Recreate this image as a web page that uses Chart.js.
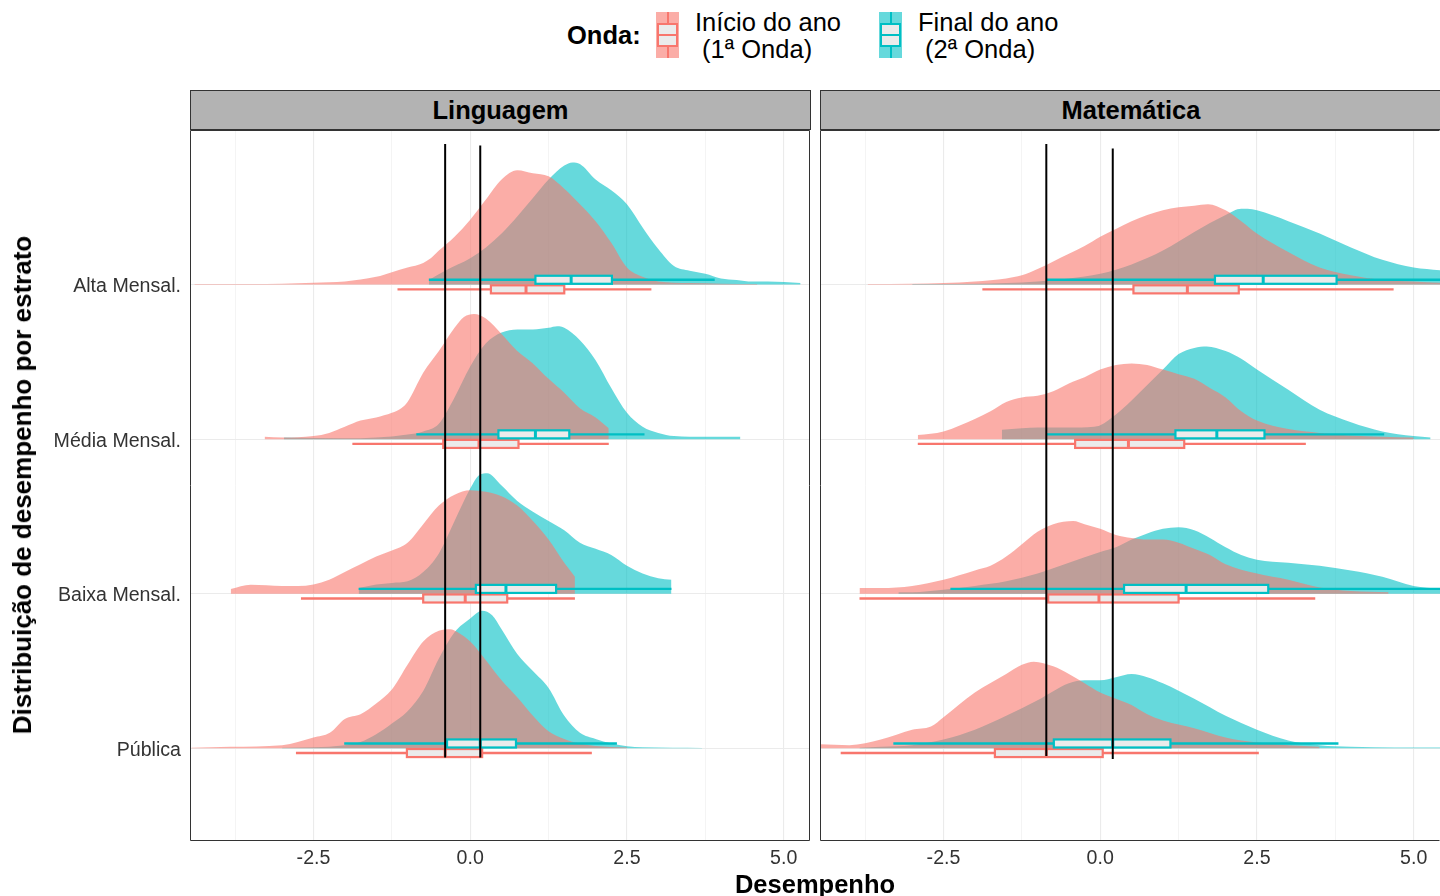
<!DOCTYPE html>
<html lang="pt">
<head>
<meta charset="utf-8">
<title>Distribuição de desempenho por estrato</title>
<script src="https://cdn.jsdelivr.net/npm/chart.js@4.4.1/dist/chart.umd.min.js"></script>
<style>
  body { margin: 0; width: 1440px; height: 896px; overflow: hidden; background: #fff;
         font-family: "Liberation Sans", Arial, sans-serif; color: #000; position: relative; }
  .abs { position: absolute; white-space: pre; line-height: 1; }
  .strip { position: absolute; top: 90px; height: 40px; box-sizing: border-box; background: #b3b3b3;
           border: 1px solid #333; display: flex; align-items: center; justify-content: center;
           font-weight: bold; font-size: 25.5px; }
  .key { position: absolute; top: 12px; width: 23px; height: 46px; }
  .key .wh { position: absolute; left: 10.5px; top: 0; width: 2px; height: 46px; }
  .key .bx { position: absolute; left: 1px; top: 11px; width: 21px; height: 24px; box-sizing: border-box;
             border: 2px solid; background: #ebebeb; }
  .key .md { position: absolute; left: 0; right: 0; top: 9px; height: 2px; }
  .lab { position: absolute; top: 9px; font-size: 25.5px; line-height: 27px; white-space: pre; }
  canvas { position: absolute; }
</style>
</head>
<body>

<div class="abs" style="left:567px; top:23px; font-size:25.5px; font-weight:bold;">Onda:</div>
<div class="key" style="left:656px; background:rgba(248,118,109,0.6);">
  <div class="wh" style="background:#F8766D;"></div>
  <div class="bx" style="border-color:#F8766D;"><div class="md" style="background:#F8766D;"></div></div>
</div>
<div class="lab" id="lab-ini" style="left:695px;"></div>
<div class="key" style="left:879px; background:rgba(0,191,196,0.6);">
  <div class="wh" style="background:#00BFC4;"></div>
  <div class="bx" style="border-color:#00BFC4;"><div class="md" style="background:#00BFC4;"></div></div>
</div>
<div class="lab" id="lab-fim" style="left:918px;"></div>

<div class="strip" id="strip-0" style="left:190px; width:621px;"></div>
<div class="strip" id="strip-1" style="left:820px; width:622px;"></div>

<canvas id="chart-ling" width="812" height="750" style="left:0; top:126px; width:812px; height:750px;"></canvas>
<canvas id="chart-mat" width="622" height="750" style="left:818px; top:126px; width:622px; height:750px;"></canvas>

<div class="abs" style="left:22px; top:485px; font-size:26px; font-weight:bold; transform:translate(-50%,-50%) rotate(-90deg);">Distribuição de desempenho por estrato</div>
<div class="abs" style="left:815px; top:872px; font-size:25.5px; font-weight:bold; transform:translateX(-50%);">Desempenho</div>

<script>
// categorias e rótulos
const strata = ['Pública', 'Baixa Mensal.', 'Média Mensal.', 'Alta Mensal.'];
const panels = ['Linguagem', 'Matemática'];
const waves = ['Início do ano\n (1ª Onda)', 'Final do ano\n (2ª Onda)'];
const xMajor = [-2.5, 0, 2.5, 5];
const xMinor = [-3.75, -1.25, 1.25, 3.75];
const xRange = [-4.47, 5.42];
const yRange = [0.4, 5.0];

// densidades [x, altura] — Linguagem, 1ª onda (Início)
const lingPubIni = [[-4.45,0.003],[-3.82,0.01],[-3,0.02],[-2.5,0.07],[-2.24,0.1],[-2,0.19],[-1.75,0.22],[-1.5,0.29],[-1.25,0.38],[-1,0.54],[-0.75,0.69],[-0.5,0.76],[-0.32,0.77],[-0.2,0.75],[0,0.69],[0.25,0.57],[0.5,0.44],[0.75,0.33],[1,0.21],[1.25,0.11],[1.5,0.06],[1.75,0.03],[2,0.015],[2.5,0.005]];
const lingBaiIni = [[-3.82,0.03],[-3.5,0.058],[-3,0.05],[-2.75,0.05],[-2.5,0.06],[-2.25,0.09],[-2,0.14],[-1.75,0.19],[-1.5,0.24],[-1.25,0.28],[-1,0.33],[-0.75,0.45],[-0.5,0.57],[-0.25,0.64],[0,0.67],[0.25,0.66],[0.5,0.63],[0.75,0.57],[1,0.47],[1.25,0.35],[1.5,0.2],[1.67,0.11]];
const lingMedIni = [[-3.28,0.015],[-3,0.01],[-2.5,0.02],[-2.25,0.04],[-2,0.08],[-1.75,0.12],[-1.5,0.14],[-1.25,0.17],[-1.1,0.2],[-1,0.24],[-0.75,0.43],[-0.5,0.57],[-0.25,0.72],[-0.1,0.79],[0.06,0.81],[0.25,0.78],[0.5,0.68],[0.75,0.57],[1,0.49],[1.25,0.39],[1.5,0.3],[1.75,0.2],[2,0.14],[2.21,0.07]];
const lingAltIni = [[-4.4,0.003],[-3.5,0.004],[-3,0.006],[-2.5,0.012],[-2,0.02],[-1.5,0.05],[-1.25,0.08],[-1,0.11],[-0.75,0.14],[-0.63,0.17],[-0.5,0.22],[-0.25,0.31],[0,0.42],[0.25,0.55],[0.5,0.68],[0.75,0.74],[1,0.72],[1.25,0.7],[1.5,0.62],[1.75,0.52],[2,0.41],[2.25,0.27],[2.5,0.11],[2.75,0.05],[3,0.02],[3.5,0.01],[4,0.006],[4.58,0.004]];

// Linguagem, 2ª onda (Final)
const lingPubFim = [[-3,0.003],[-2.5,0.006],[-2,0.02],[-1.75,0.04],[-1.5,0.09],[-1.25,0.16],[-1,0.24],[-0.75,0.37],[-0.5,0.58],[-0.25,0.75],[0,0.84],[0.19,0.89],[0.35,0.86],[0.5,0.77],[0.75,0.61],[1,0.5],[1.25,0.39],[1.5,0.21],[1.75,0.1],[2,0.06],[2.25,0.03],[2.5,0.013],[2.75,0.006],[3.7,0.002]];
const lingBaiFim = [[-1.78,0.037],[-1.5,0.06],[-1.25,0.07],[-1,0.08],[-0.75,0.14],[-0.5,0.26],[-0.25,0.47],[0,0.68],[0.15,0.77],[0.27,0.78],[0.5,0.7],[0.75,0.6],[1,0.53],[1.25,0.47],[1.5,0.41],[1.75,0.33],[2,0.29],[2.25,0.25],[2.5,0.18],[2.75,0.13],[3,0.1],[3.21,0.09]];
const lingMedFim = [[-2.97,0.01],[-2,0.005],[-1.5,0.01],[-1,0.03],[-0.75,0.05],[-0.5,0.1],[-0.25,0.27],[0,0.47],[0.25,0.62],[0.5,0.69],[0.75,0.71],[1,0.71],[1.25,0.72],[1.39,0.73],[1.5,0.72],[1.75,0.64],[2,0.51],[2.25,0.33],[2.5,0.17],[2.75,0.08],[3,0.04],[3.25,0.02],[3.75,0.015],[4.31,0.015]];
const lingAltFim = [[-0.66,0.03],[-0.4,0.09],[0,0.17],[0.25,0.24],[0.5,0.33],[0.75,0.44],[1,0.56],[1.25,0.68],[1.5,0.77],[1.63,0.79],[1.75,0.78],[2,0.68],[2.25,0.61],[2.5,0.52],[2.75,0.37],[3,0.23],[3.25,0.12],[3.5,0.09],[3.75,0.07],[4,0.04],[4.25,0.03],[4.5,0.02],[4.75,0.02],[5.27,0.01]];

// Matemática, 1ª onda (Início)
const matPubIni = [[-4.47,0.026],[-4,0.02],[-3.5,0.056],[-3,0.12],[-2.7,0.14],[-2.5,0.2],[-2,0.36],[-1.5,0.48],[-1.25,0.54],[-1.06,0.56],[-0.75,0.53],[-0.5,0.48],[-0.25,0.42],[0,0.36],[0.25,0.32],[0.5,0.28],[0.75,0.22],[1,0.18],[1.5,0.13],[2,0.07],[2.5,0.037],[3,0.02],[3.5,0.01]];
const matBaiIni = [[-3.84,0.037],[-3.5,0.037],[-3,0.05],[-2.5,0.09],[-2,0.15],[-1.75,0.18],[-1.5,0.24],[-1.25,0.32],[-1,0.4],[-0.75,0.45],[-0.43,0.47],[-0.25,0.45],[0,0.42],[0.25,0.38],[0.5,0.36],[0.75,0.35],[1,0.35],[1.25,0.33],[1.5,0.29],[1.75,0.25],[2,0.19],[2.5,0.13],[3,0.09],[3.5,0.04],[4,0.017],[4.6,0.01]];
const matMedIni = [[-2.91,0.026],[-2.5,0.05],[-2,0.13],[-1.75,0.18],[-1.5,0.24],[-1.25,0.27],[-1,0.28],[-0.75,0.31],[-0.5,0.36],[-0.25,0.4],[0,0.45],[0.25,0.48],[0.5,0.49],[0.75,0.48],[1,0.45],[1.25,0.42],[1.5,0.39],[1.75,0.33],[2,0.27],[2.25,0.18],[2.5,0.12],[3,0.065],[3.5,0.04],[4,0.024],[4.5,0.015],[5,0.01]];
const matAltIni = [[-3.71,0.003],[-3,0.006],[-2.5,0.01],[-2,0.02],[-1.5,0.04],[-1.25,0.06],[-1,0.1],[-0.75,0.15],[-0.5,0.2],[-0.25,0.25],[0,0.31],[0.25,0.36],[0.5,0.41],[0.75,0.45],[1,0.48],[1.25,0.5],[1.5,0.51],[1.72,0.52],[2,0.48],[2.25,0.41],[2.5,0.33],[3,0.21],[3.5,0.11],[4,0.06],[4.5,0.03],[5,0.02],[5.5,0.01]];

// Matemática, 2ª onda (Final)
const matPubFim = [[-3.84,0.003],[-3.5,0.01],[-3,0.02],[-2.5,0.056],[-2,0.12],[-1.5,0.21],[-1,0.31],[-0.5,0.42],[-0.25,0.44],[0,0.44],[0.25,0.46],[0.5,0.48],[0.75,0.46],[1,0.42],[1.5,0.32],[2,0.21],[2.5,0.12],[3,0.05],[3.5,0.02],[4,0.01],[5.5,0.004]];
const matBaiFim = [[-3.22,0.01],[-3,0.01],[-2.5,0.026],[-2,0.05],[-1.5,0.08],[-1,0.13],[-0.5,0.2],[0,0.27],[0.25,0.3],[0.5,0.35],[0.75,0.39],[1,0.42],[1.25,0.43],[1.5,0.41],[1.75,0.36],[2,0.3],[2.25,0.25],[2.5,0.22],[3,0.2],[3.5,0.18],[4,0.15],[4.5,0.11],[5,0.05],[5.5,0.03]];
const matMedFim = [[-1.57,0.06],[-1.25,0.07],[-1,0.075],[-0.5,0.075],[-0.1,0.08],[0,0.09],[0.25,0.16],[0.5,0.25],[0.75,0.35],[1,0.45],[1.25,0.55],[1.5,0.59],[1.7,0.6],[2,0.57],[2.25,0.52],[2.5,0.45],[3,0.32],[3.5,0.19],[4,0.11],[4.5,0.05],[5,0.02],[5.27,0.01]];
const matAltFim = [[-3,0.003],[-2,0.005],[-1.5,0.01],[-1,0.02],[-0.5,0.04],[0,0.07],[0.5,0.13],[1,0.22],[1.5,0.34],[2,0.45],[2.25,0.49],[2.35,0.49],[2.5,0.48],[3,0.41],[3.5,0.33],[4,0.24],[4.5,0.16],[5,0.11],[5.5,0.09]];

// boxplots [mín, Q1, mediana, Q3, máx], na ordem de strata
const boxLingIni = [[-2.78,-1.01,-0.40,0.19,1.94],[-2.70,-0.75,-0.08,0.59,1.67],[-1.88,-0.43,0.14,0.77,2.21],[-1.16,0.33,0.89,1.50,2.89]];
const boxLingFim = [[-2.01,-0.37,0.16,0.73,2.34],[-1.78,0.09,0.57,1.37,3.21],[-0.86,0.45,1.04,1.58,2.78],[-0.66,1.04,1.61,2.26,3.90]];
const boxMatIni = [[-4.14,-1.68,-0.86,0.04,2.53],[-3.84,-0.83,-0.02,1.25,3.43],[-2.91,-0.40,0.45,1.34,3.28],[-1.88,0.53,1.39,2.21,4.68]];
const boxMatFim = [[-3.30,-0.74,0.20,1.12,3.80],[-2.39,0.38,1.37,2.68,5.60],[-0.86,1.20,1.86,2.62,4.53],[-0.86,1.83,2.60,3.77,5.60]];

// linhas de referência (medianas da rede pública)
const refLing = [-0.40, 0.16];
const refLingSpan = [[0.94, 4.91], [0.94, 4.90]];
const refMat = [-0.86, 0.20];
const refMatSpan = [[0.95, 4.91], [0.93, 4.88]];

const colIni = '#F8766D', colFim = '#00BFC4';
const fillIni = 'rgba(248,118,109,0.6)', fillFim = 'rgba(0,191,196,0.6)';
const boxOff = 0.031, boxHalf = 0.026;

document.getElementById('lab-ini').textContent = waves[0];
document.getElementById('lab-fim').textContent = waves[1];
panels.forEach((p, i) => document.getElementById('strip-' + i).textContent = p);

Chart.defaults.font.family = '"Liberation Sans", Arial, sans-serif';

function ridge(pts, base, color) {
    return {
        data: pts.map(([x, h]) => ({ x: x, y: base + h })),
        backgroundColor: color,
        borderColor: 'rgba(0,0,0,0)',
        borderWidth: 0,
        pointRadius: 0,
        fill: { value: base },
        cubicInterpolationMode: 'monotone',
        tension: 0.4
    };
}

// desenha boxplots antes das linhas de referência, e a moldura do painel no final
function boxLayer(sets, rightEdge) {
    return {
        id: 'boxLayer',
        beforeDatasetsDraw(chart) { chart.$boxDone = false; },
        beforeDatasetDraw(chart, args) {
            const ds = chart.data.datasets[args.index];
            if (!ds.refLine || chart.$boxDone) return;
            chart.$boxDone = true;
            const { ctx, chartArea: a } = chart;
            const xs = chart.scales.x, ys = chart.scales.y;
            ctx.save();
            ctx.beginPath();
            ctx.rect(a.left, a.top, a.width, a.height);
            ctx.clip();
            sets.forEach(set => {
                set.stats.forEach((s, i) => {
                    const [lo, q1, md, q3, hi] = s;
                    const yc = ys.getPixelForValue(i + 1 + set.off);
                    const hh = Math.abs(ys.getPixelForValue(i + 1 + set.off + boxHalf) - yc);
                    ctx.strokeStyle = set.color;
                    ctx.lineWidth = 2.4;
                    ctx.beginPath();
                    ctx.moveTo(xs.getPixelForValue(lo), yc);
                    ctx.lineTo(xs.getPixelForValue(hi), yc);
                    ctx.stroke();
                    const x1 = xs.getPixelForValue(q1), x3 = xs.getPixelForValue(q3);
                    ctx.fillStyle = '#ebebeb';
                    ctx.fillRect(x1, yc - hh, x3 - x1, 2 * hh);
                    ctx.lineWidth = 2.2;
                    ctx.strokeRect(x1, yc - hh, x3 - x1, 2 * hh);
                    const xm = xs.getPixelForValue(md);
                    ctx.lineWidth = 3;
                    ctx.beginPath();
                    ctx.moveTo(xm, yc - hh);
                    ctx.lineTo(xm, yc + hh);
                    ctx.stroke();
                });
            });
            ctx.restore();
        },
        afterDraw(chart) {
            const { ctx, chartArea: a } = chart;
            ctx.save();
            ctx.strokeStyle = '#333';
            ctx.lineWidth = 1;
            ctx.beginPath();
            ctx.moveTo(a.right - 0.5, a.top + 0.5);
            ctx.lineTo(a.left + 0.5, a.top + 0.5);
            ctx.lineTo(a.left + 0.5, a.bottom - 0.5);
            ctx.lineTo(a.right - 0.5, a.bottom - 0.5);
            if (rightEdge) ctx.lineTo(a.right - 0.5, a.top + 0.5);
            ctx.stroke();
            ctx.restore();
        }
    };
}

function buildPanel(id, densIni, densFim, boxIni, boxFim, ref, refSpan, showY) {
    const seq = [];
    for (let i = strata.length - 1; i >= 0; i--) {
        seq.push(ridge(densFim[i], i + 1, fillFim));
        seq.push(ridge(densIni[i], i + 1, fillIni));
    }
    ref.forEach((x, j) => {
        seq.push({
            data: [{ x: x, y: refSpan[j][0] }, { x: x, y: refSpan[j][1] }],
            borderColor: '#000', borderWidth: 2, pointRadius: 0, fill: false, tension: 0,
            refLine: true
        });
    });
    seq.forEach((d, i) => { d.order = seq.length - i; });

    const sets = [
        { stats: boxIni, color: colIni, off: -boxOff },
        { stats: boxFim, color: colFim, off: boxOff }
    ];

    new Chart(document.getElementById(id), {
        type: 'line',
        data: { datasets: seq },
        options: {
            responsive: false,
            animation: false,
            devicePixelRatio: 1,
            layout: { padding: { top: 4, right: showY ? 2 : 0, left: 0, bottom: 0 } },
            plugins: { legend: { display: false }, tooltip: { enabled: false } },
            scales: {
                x: {
                    type: 'linear', min: xRange[0], max: xRange[1],
                    afterBuildTicks: s => {
                        s.ticks = [...xMinor, ...xMajor].sort((a, b) => a - b).map(v => ({ value: v }));
                    },
                    afterFit: s => { s.height = 35; s.paddingLeft = 0; s.paddingRight = 0; },
                    ticks: {
                        autoSkip: false, maxRotation: 0, padding: 6, color: '#333', font: { size: 19.6 },
                        callback: v => xMajor.includes(v) ? v.toFixed(1) : ''
                    },
                    grid: {
                        color: '#ebebeb', drawTicks: false,
                        lineWidth: c => (c.tick && xMajor.includes(c.tick.value)) ? 1.1 : 0.55
                    },
                    border: { display: false }
                },
                y: {
                    type: 'linear', min: yRange[0], max: yRange[1],
                    afterBuildTicks: s => { s.ticks = strata.map((_, i) => ({ value: i + 1 })); },
                    afterFit: s => { s.width = showY ? 190 : 2; s.paddingTop = 0; s.paddingBottom = 0; },
                    ticks: {
                        display: showY, padding: 9, labelOffset: 2, color: '#333', font: { size: 19.6 },
                        callback: v => strata[v - 1]
                    },
                    grid: { color: '#ebebeb', lineWidth: 1.1, drawTicks: false },
                    border: { display: false }
                }
            }
        },
        plugins: [boxLayer(sets, showY)]
    });
}

buildPanel('chart-ling',
    [lingPubIni, lingBaiIni, lingMedIni, lingAltIni],
    [lingPubFim, lingBaiFim, lingMedFim, lingAltFim],
    boxLingIni, boxLingFim, refLing, refLingSpan, true);

buildPanel('chart-mat',
    [matPubIni, matBaiIni, matMedIni, matAltIni],
    [matPubFim, matBaiFim, matMedFim, matAltFim],
    boxMatIni, boxMatFim, refMat, refMatSpan, false);
</script>
</body>
</html>
